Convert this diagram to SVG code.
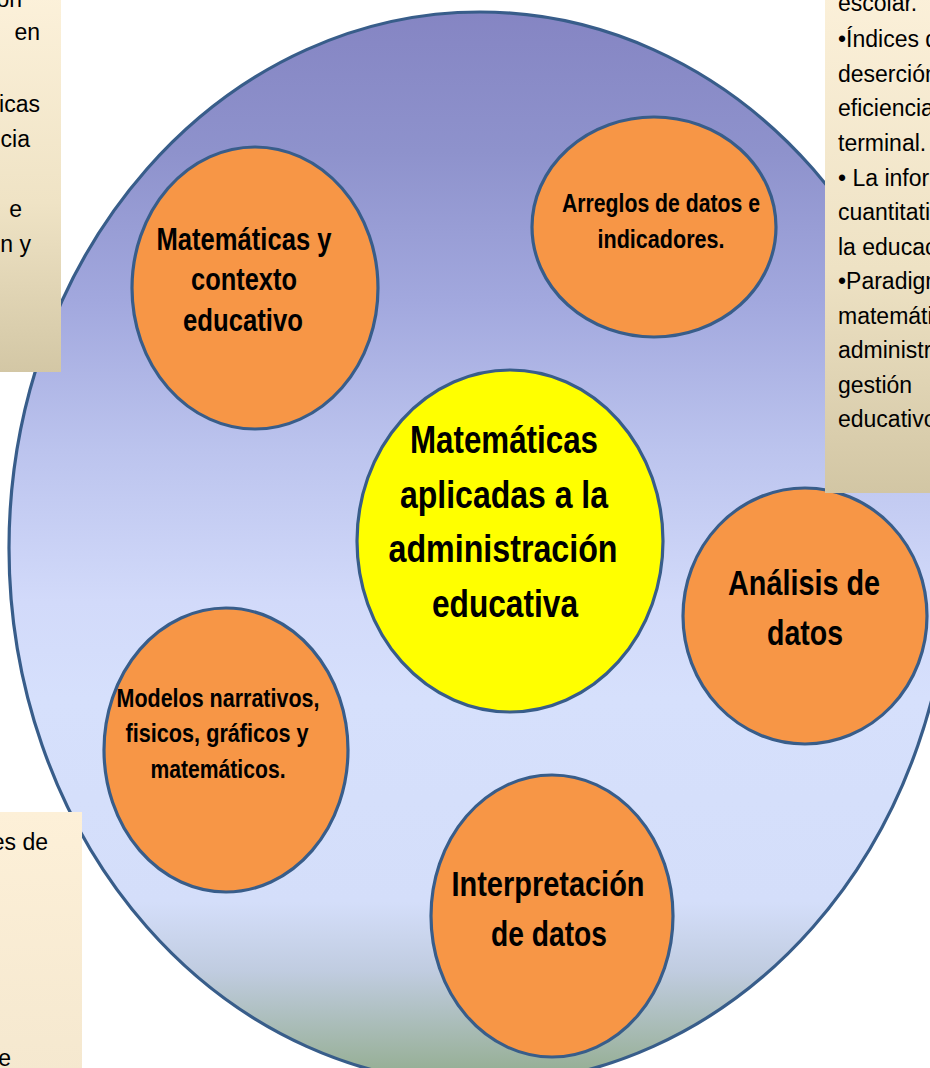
<svg xmlns="http://www.w3.org/2000/svg" width="930" height="1068" viewBox="0 0 930 1068">
<defs>
<linearGradient id="bigFill" x1="0" y1="0" x2="0" y2="1">
<stop offset="0" stop-color="#8585c3"/>
<stop offset="0.13" stop-color="#8e92cc"/>
<stop offset="0.27" stop-color="#a2a8de"/>
<stop offset="0.41" stop-color="#bcc4ee"/>
<stop offset="0.55" stop-color="#d2dafa"/>
<stop offset="0.64" stop-color="#d6e0fc"/>
<stop offset="0.83" stop-color="#d4defa"/>
<stop offset="0.895" stop-color="#c0cce0"/>
<stop offset="0.985" stop-color="#98b098"/>
</linearGradient>
<linearGradient id="boxTL" x1="0" y1="0" x2="0" y2="1">
<stop offset="0" stop-color="#fcf1da"/>
<stop offset="0.55" stop-color="#efe3c5"/>
<stop offset="1" stop-color="#d3c7a5"/>
</linearGradient>
<linearGradient id="boxTR" x1="0" y1="0" x2="0" y2="1">
<stop offset="0" stop-color="#fbf0d9"/>
<stop offset="0.55" stop-color="#eee2c4"/>
<stop offset="1" stop-color="#d2c6a4"/>
</linearGradient>
<linearGradient id="boxBL" x1="0" y1="0" x2="0" y2="1">
<stop offset="0" stop-color="#fdf0d8"/>
<stop offset="1" stop-color="#f5e8cf"/>
</linearGradient>
<style>
.big{fill:url(#bigFill);stroke:#385d8a;stroke-width:3.2}
.orange{fill:#f79646;stroke:#385d8a;stroke-width:3.2}
.yellow{fill:#ffff00;stroke:#385d8a;stroke-width:3.2}
.lbl{font-family:"Liberation Sans",Arial,sans-serif;font-weight:bold;fill:#000;text-anchor:middle}
.bt{font-family:"Liberation Sans",Arial,sans-serif;font-size:23px;fill:#000}
.end{text-anchor:end}
</style>
</defs>
<rect width="930" height="1068" fill="#ffffff"/>
<g id="connectors"/>
<g id="outer-circle">
<ellipse class="big" cx="480" cy="548" rx="471" ry="536"/>
</g>
<g id="node-contexto">
<ellipse class="orange" cx="255" cy="288" rx="123" ry="141"/>
<text class="lbl" font-size="31" x="244" y="250" textLength="175" lengthAdjust="spacingAndGlyphs">Matemáticas y</text>
<text class="lbl" font-size="31" x="244" y="290" textLength="106" lengthAdjust="spacingAndGlyphs">contexto</text>
<text class="lbl" font-size="31" x="243" y="331" textLength="120" lengthAdjust="spacingAndGlyphs">educativo</text>
</g>
<g id="node-arreglos">
<ellipse class="orange" cx="654" cy="227" rx="122" ry="110"/>
<text class="lbl" font-size="25" x="661" y="212" textLength="198" lengthAdjust="spacingAndGlyphs">Arreglos de datos e</text>
<text class="lbl" font-size="25" x="661" y="248" textLength="127" lengthAdjust="spacingAndGlyphs">indicadores.</text>
</g>
<g id="node-central">
<ellipse class="yellow" cx="510" cy="541" rx="153" ry="171"/>
<text class="lbl" font-size="38" x="504" y="453" textLength="188" lengthAdjust="spacingAndGlyphs">Matemáticas</text>
<text class="lbl" font-size="38" x="504" y="508" textLength="208" lengthAdjust="spacingAndGlyphs">aplicadas a la</text>
<text class="lbl" font-size="38" x="503" y="562" textLength="229" lengthAdjust="spacingAndGlyphs">administración</text>
<text class="lbl" font-size="38" x="505" y="617" textLength="146" lengthAdjust="spacingAndGlyphs">educativa</text>
</g>
<g id="node-analisis">
<ellipse class="orange" cx="805" cy="616" rx="122" ry="128"/>
<text class="lbl" font-size="35" x="804" y="595" textLength="152" lengthAdjust="spacingAndGlyphs">Análisis de</text>
<text class="lbl" font-size="35" x="805" y="645" textLength="76" lengthAdjust="spacingAndGlyphs">datos</text>
</g>
<g id="node-modelos">
<ellipse class="orange" cx="226" cy="750" rx="122" ry="142"/>
<text class="lbl" font-size="26" x="218" y="707" textLength="203" lengthAdjust="spacingAndGlyphs">Modelos narrativos,</text>
<text class="lbl" font-size="26" x="217" y="742" textLength="183" lengthAdjust="spacingAndGlyphs">fisicos, gráficos y</text>
<text class="lbl" font-size="26" x="218" y="778" textLength="135" lengthAdjust="spacingAndGlyphs">matemáticos.</text>
</g>
<g id="node-interpretacion">
<ellipse class="orange" cx="552" cy="916" rx="121" ry="141"/>
<text class="lbl" font-size="35" x="548" y="896" textLength="193" lengthAdjust="spacingAndGlyphs">Interpretación</text>
<text class="lbl" font-size="35" x="549" y="946" textLength="116" lengthAdjust="spacingAndGlyphs">de datos</text>
</g>
<g id="box-top-left">
<rect x="-5" y="-5" width="66" height="377" fill="url(#boxTL)"/>
<text class="bt end" x="22" y="7">on</text>
<text class="bt end" x="40" y="40">en</text>
<text class="bt end" x="40" y="112">icas</text>
<text class="bt end" x="30" y="147">cia</text>
<text class="bt end" x="22" y="217">e</text>
<text class="bt end" x="31" y="252">n y</text>
</g>
<g id="box-top-right">
<rect x="825" y="-5" width="110" height="498" fill="url(#boxTR)"/>
<text class="bt" x="838" y="11">escolar.</text>
<text class="bt" x="838" y="47">•Índices d</text>
<text class="bt" x="838" y="82">deserción</text>
<text class="bt" x="838" y="116">eficiencia</text>
<text class="bt" x="838" y="151">terminal.</text>
<text class="bt" x="838" y="186">• La infor</text>
<text class="bt" x="838" y="220">cuantitati</text>
<text class="bt" x="838" y="255">la educac</text>
<text class="bt" x="838" y="289">•Paradigm</text>
<text class="bt" x="838" y="324">matemáti</text>
<text class="bt" x="838" y="358">administr</text>
<text class="bt" x="838" y="393">gestión</text>
<text class="bt" x="838" y="427">educativo</text>
</g>
<g id="box-bottom-left">
<rect x="-5" y="812" width="87" height="262" fill="url(#boxBL)"/>
<text class="bt end" x="48" y="850">es de</text>
<text class="bt end" x="11" y="1066">e</text>
</g>
</svg>
